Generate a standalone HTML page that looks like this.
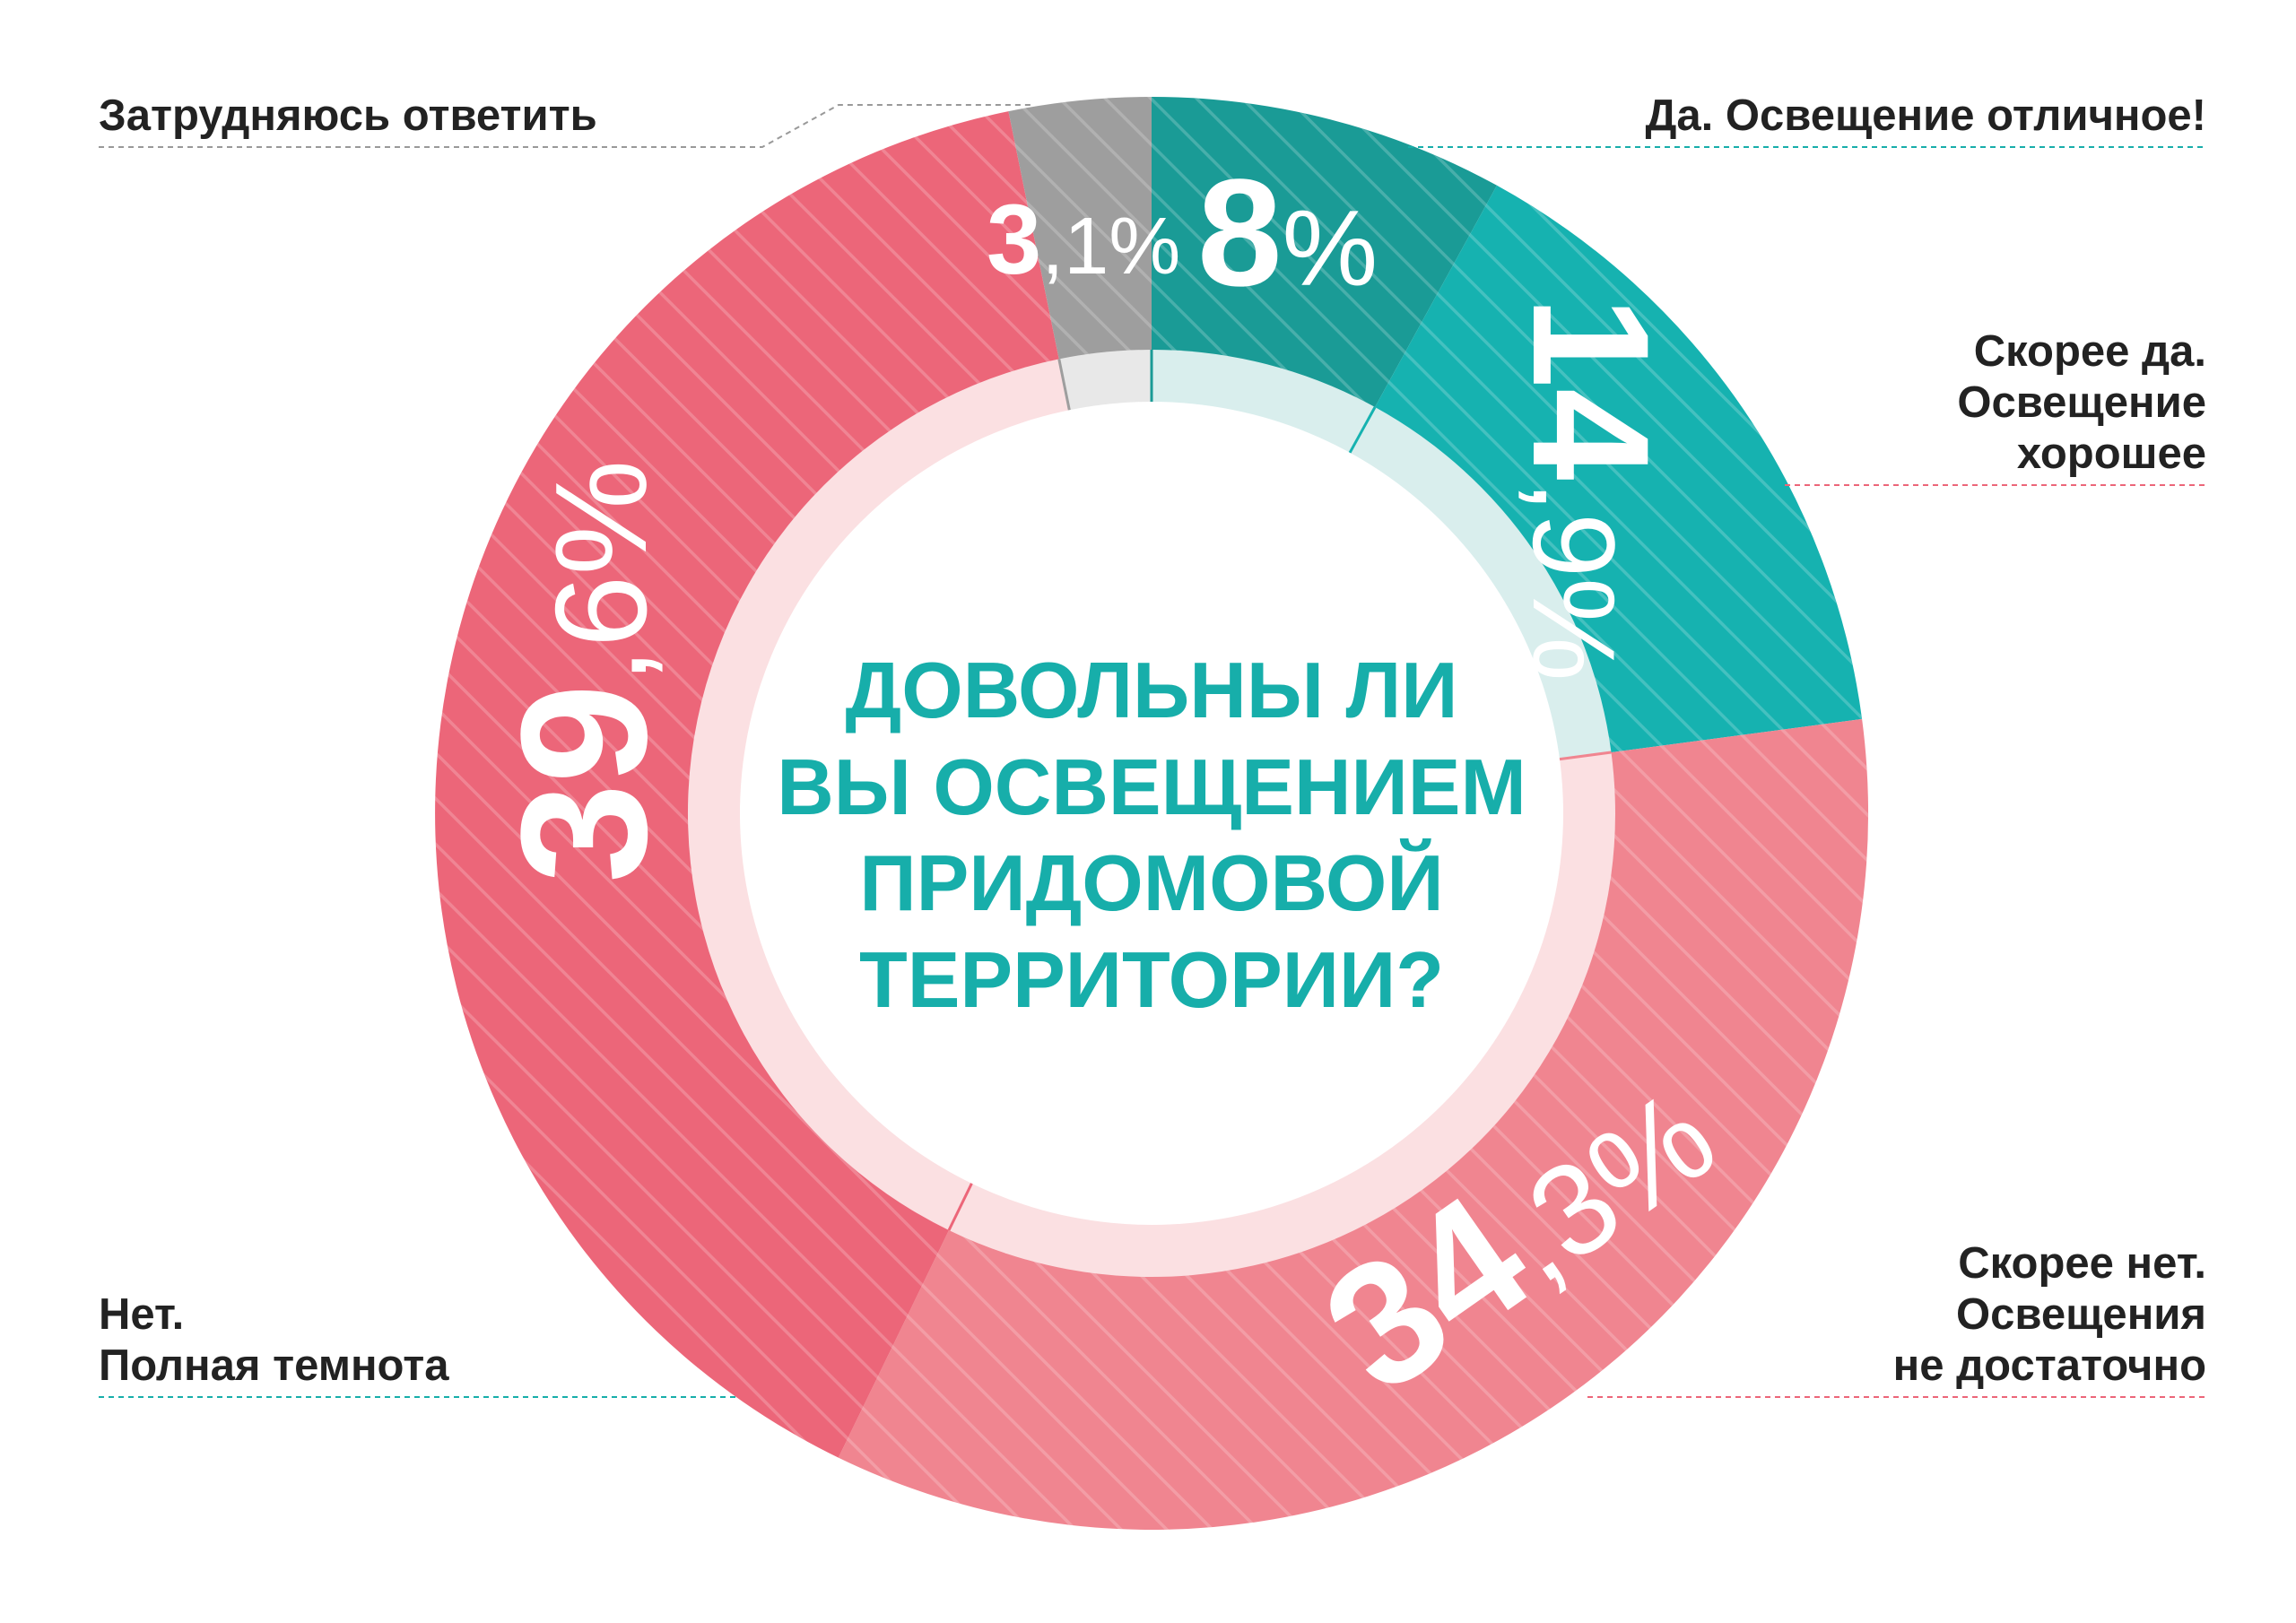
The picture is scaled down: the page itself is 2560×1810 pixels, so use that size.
<!DOCTYPE html>
<html><head><meta charset="utf-8"><style>
html,body{margin:0;padding:0;background:#fff;}
svg{display:block;}
text{font-family:"Liberation Sans","DejaVu Sans",sans-serif;font-weight:bold;}
</style></head><body>
<svg width="2560" height="1810" viewBox="0 0 2560 1810" xmlns="http://www.w3.org/2000/svg">
<defs>
<pattern id="h" width="36" height="36" patternUnits="userSpaceOnUse" patternTransform="rotate(-45)">
<rect x="0" y="0" width="3.5" height="36" fill="#ffffff" opacity="0.2"/>
</pattern>
</defs>
<g>
<path d="M1284,907 L1284,108 A799,799 0 0 1 1669,206.8 Z" fill="#1a9b96"/>
<path d="M1284,907 L1669,206.8 A799,799 0 0 1 2076.1,801.9 Z" fill="#16b2b0"/>
<path d="M1284,907 L2076.1,801.9 A799,799 0 0 1 934.8,1625.6 Z" fill="#f08590"/>
<path d="M1284,907 L934.8,1625.6 A799,799 0 0 1 1124.4,124.1 Z" fill="#ec6679"/>
<path d="M1284,907 L1124.4,124.1 A799,799 0 0 1 1284,108 Z" fill="#9e9e9e"/>
<circle cx="1284" cy="907" r="799" fill="url(#h)"/>
<path d="M1284,907 L1284,390 A517,517 0 0 1 1533.1,454 Z" fill="#d9eeed"/>
<path d="M1284,907 L1533.1,454 A517,517 0 0 1 1796.5,839 Z" fill="#d9eeed"/>
<path d="M1284,907 L1796.5,839 A517,517 0 0 1 1058,1372 Z" fill="#fbe0e2"/>
<path d="M1284,907 L1058,1372 A517,517 0 0 1 1180.8,400.4 Z" fill="#fbe0e2"/>
<path d="M1284,907 L1180.8,400.4 A517,517 0 0 1 1284,390 Z" fill="#e8e8e8"/>
<circle cx="1284" cy="907" r="459" fill="#fff"/>
<g stroke-width="3">
<line x1="1284" y1="390" x2="1284" y2="448" stroke="#1a9b96"/>
<line x1="1533.1" y1="454" x2="1505.1" y2="504.8" stroke="#16b2b0"/>
<line x1="1796.5" y1="839" x2="1739" y2="846.6" stroke="#f08590"/>
<line x1="1058" y1="1372" x2="1083.4" y2="1319.8" stroke="#ec6679"/>
<line x1="1180.8" y1="400.4" x2="1192.3" y2="457.2" stroke="#9e9e9e"/>
</g>
</g>
<g fill="#17aeaa" font-size="88" text-anchor="middle">
<text x="1284" y="800">ДОВОЛЬНЫ ЛИ</text>
<text x="1284" y="908">ВЫ ОСВЕЩЕНИЕМ</text>
<text x="1284" y="1015">ПРИДОМОВОЙ</text>
<text x="1284" y="1123">ТЕРРИТОРИИ?</text>
</g>
<g fill="#fff">
<text x="1335" y="318" font-size="170">8<tspan font-size="120" font-weight="normal">%</tspan></text>
<text x="1100" y="305" font-size="110">3<tspan font-size="90" font-weight="normal">,1%</tspan></text>
<text transform="translate(1710,330) rotate(90)" font-size="185">14<tspan font-size="130" font-weight="normal">,9%</tspan></text>
<text transform="translate(1540,1560) rotate(-35)" font-size="195">34<tspan font-size="145" font-weight="normal">,3%</tspan></text>
<text transform="translate(720,985) rotate(-90)" font-size="200">39<tspan font-size="145" font-weight="normal">,6%</tspan></text>
</g>
<g fill="#222" font-size="49">
<text x="110" y="145">Затрудняюсь ответить</text>
<text x="2460" y="145" text-anchor="end">Да. Освещение отличное!</text>
<text x="2460" y="408" text-anchor="end">Скорее да.</text>
<text x="2460" y="465" text-anchor="end">Освещение</text>
<text x="2460" y="522" text-anchor="end">хорошее</text>
<text x="2460" y="1425" text-anchor="end">Скорее нет.</text>
<text x="2460" y="1482" text-anchor="end">Освещения</text>
<text x="2460" y="1539" text-anchor="end">не достаточно</text>
<text x="110" y="1482">Нет.</text>
<text x="110" y="1539">Полная темнота</text>
</g>
<g fill="none" stroke-width="2" stroke-dasharray="6,5">
<polyline points="110,164 850,164 935,117 1150,117" stroke="#999"/>
<line x1="1570" y1="164" x2="2460" y2="164" stroke="#17aeaa"/>
<line x1="1990" y1="541" x2="2460" y2="541" stroke="#ec6679"/>
<line x1="1770" y1="1558" x2="2460" y2="1558" stroke="#ec6679"/>
<line x1="110" y1="1558" x2="820" y2="1558" stroke="#17aeaa"/>
</g>
</svg>
</body></html>
